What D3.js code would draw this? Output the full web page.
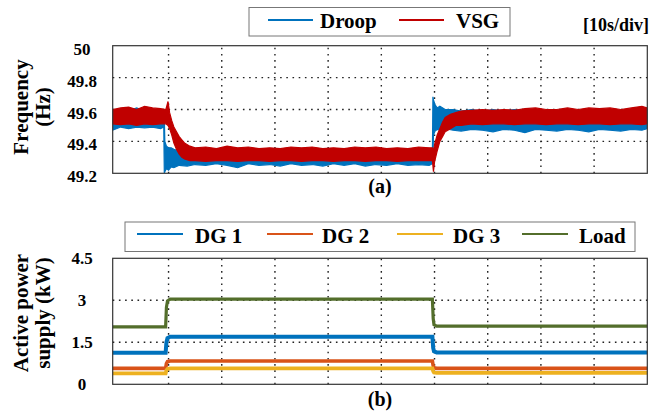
<!DOCTYPE html>
<html>
<head>
<meta charset="utf-8">
<script src="https://cdn.jsdelivr.net/npm/d3@7"></script>
<style>
  body { margin: 0; background: #fff; }
</style>
</head>
<body>
<svg id="chart" width="651" height="417"></svg>
<script>
// ---- panel (a): frequency envelopes (upper / lower edge of the noisy band)
var droopT = [-0.5, 1, 2.5, 4, 5.5, 7, 8.5, 9.1, 9.2, 9.3, 9.6, 10, 10.5, 11, 12, 13.5, 15, 17, 19, 21, 23, 25, 27, 29, 31, 33, 35, 37, 39, 41, 43, 45, 47, 49, 51, 53, 55, 57, 59, 59.6, 59.7, 59.8, 60.1, 60.5, 61, 62, 63.5, 65, 67, 69, 71, 73, 75, 77, 79, 81, 83, 85, 87, 89, 91, 93, 95, 97, 99, 100];
var droopHi = [49.59, 49.60, 49.59, 49.61, 49.59, 49.60, 49.59, 49.58, 49.56, 49.40, 49.37, 49.36, 49.36, 49.35, 49.34, 49.34, 49.33, 49.34, 49.33, 49.34, 49.35, 49.33, 49.34, 49.33, 49.34, 49.33, 49.34, 49.33, 49.34, 49.33, 49.34, 49.33, 49.34, 49.33, 49.34, 49.33, 49.34, 49.33, 49.33, 49.33, 49.68, 49.66, 49.63, 49.61, 49.62, 49.60, 49.60, 49.59, 49.60, 49.59, 49.60, 49.59, 49.60, 49.59, 49.60, 49.59, 49.59, 49.60, 49.59, 49.60, 49.59, 49.60, 49.59, 49.60, 49.59, 49.60];
var droopLo = [49.47, 49.49, 49.48, 49.49, 49.485, 49.49, 49.48, 49.49, 49.20, 49.21, 49.23, 49.22, 49.24, 49.235, 49.25, 49.245, 49.255, 49.25, 49.26, 49.25, 49.235, 49.26, 49.25, 49.255, 49.245, 49.26, 49.25, 49.255, 49.245, 49.26, 49.25, 49.26, 49.245, 49.255, 49.25, 49.26, 49.25, 49.255, 49.25, 49.26, 49.30, 49.44, 49.465, 49.475, 49.47, 49.48, 49.47, 49.465, 49.475, 49.47, 49.46, 49.475, 49.47, 49.455, 49.475, 49.47, 49.465, 49.475, 49.47, 49.46, 49.475, 49.47, 49.465, 49.475, 49.47, 49.48];

var vsgT = [-0.5, 1, 2.5, 4, 5.5, 7, 8.5, 9.5, 9.9, 10.2, 10.6, 11, 11.5, 12, 12.5, 13, 14, 15, 17, 19, 21, 23, 25, 27, 29, 31, 33, 35, 37, 39, 41, 43, 45, 47, 49, 51, 53, 55, 57, 59, 59.6, 59.8, 60, 60.5, 61, 61.5, 62, 63, 64, 65, 67, 69, 71, 73, 75, 77, 79, 81, 83, 85, 87, 89, 91, 93, 95, 97, 99, 100];
var vsgHi = [49.60, 49.61, 49.615, 49.60, 49.62, 49.61, 49.605, 49.60, 49.65, 49.58, 49.53, 49.49, 49.46, 49.43, 49.41, 49.39, 49.37, 49.36, 49.365, 49.355, 49.37, 49.36, 49.365, 49.355, 49.36, 49.355, 49.365, 49.36, 49.365, 49.355, 49.36, 49.355, 49.365, 49.36, 49.365, 49.355, 49.36, 49.355, 49.365, 49.36, 49.36, 49.34, 49.38, 49.44, 49.48, 49.52, 49.55, 49.57, 49.58, 49.59, 49.595, 49.60, 49.595, 49.60, 49.595, 49.605, 49.61, 49.60, 49.6, 49.61, 49.60, 49.61, 49.605, 49.61, 49.60, 49.61, 49.62, 49.61];
var vsgLo = [49.51, 49.505, 49.51, 49.50, 49.51, 49.505, 49.51, 49.51, 49.50, 49.48, 49.44, 49.39, 49.35, 49.32, 49.30, 49.29, 49.28, 49.28, 49.275, 49.28, 49.28, 49.275, 49.28, 49.28, 49.275, 49.28, 49.28, 49.275, 49.28, 49.28, 49.275, 49.28, 49.28, 49.275, 49.28, 49.28, 49.275, 49.28, 49.28, 49.28, 49.28, 49.21, 49.27, 49.34, 49.40, 49.43, 49.46, 49.48, 49.50, 49.50, 49.51, 49.505, 49.51, 49.51, 49.505, 49.51, 49.51, 49.505, 49.51, 49.51, 49.505, 49.51, 49.51, 49.505, 49.51, 49.51, 49.505, 49.51];

var freqTicks = [49.2, 49.4, 49.6, 49.8, 50];
var freqTickLabels = ["49.2", "49.4", "49.6", "49.8", "50"];

// ---- panel (b): active power (kW)
var stepT = [-0.5, 9.45, 9.6, 9.8, 10.3, 59.6, 59.75, 59.9, 60.4, 100];
var dg1 = [1.13, 1.13, 1.50, 1.65, 1.70, 1.70, 1.30, 1.18, 1.14, 1.14];
var dg2 = [0.57, 0.57, 0.74, 0.81, 0.83, 0.83, 0.66, 0.59, 0.57, 0.57];
var dg3 = [0.39, 0.39, 0.50, 0.55, 0.57, 0.57, 0.47, 0.42, 0.41, 0.41];
var load = [2.05, 2.05, 2.75, 2.98, 3.04, 3.04, 2.35, 2.13, 2.08, 2.08];

var powerTicks = [0, 1.5, 3, 4.5];
var powerTickLabels = ["0", "1.5", "3", "4.5"];
var timeTicks = [10, 20, 30, 40, 50, 60, 70, 80, 90];

var svg = d3.select("#chart");

var x = d3.scaleLinear().domain([-0.5, 100]).range([112.7, 647.3]);
var yF = d3.scaleLinear().domain([49.2, 50]).range([173.3, 45.7]);
var yP = d3.scaleLinear().domain([0, 4.5]).range([384.3, 258.3]);

function grid(yScale, hTicks) {
  var g = svg.append("g");
  g.selectAll("line.v").data(timeTicks).enter().append("line")
    .attr("x1", d => x(d)).attr("x2", d => x(d))
    .attr("y1", yScale.range()[0]).attr("y2", yScale.range()[1])
    .attr("stroke", "#222").attr("stroke-width", 1.4).attr("stroke-dasharray", "1.6,4.6");
  g.selectAll("line.h").data(hTicks).enter().append("line")
    .attr("x1", x.range()[0]).attr("x2", x.range()[1])
    .attr("y1", d => yScale(d)).attr("y2", d => yScale(d))
    .attr("stroke", "#222").attr("stroke-width", 1.4).attr("stroke-dasharray", "1.6,4.6");
}

function frame(yScale) {
  svg.append("rect")
    .attr("x", x.range()[0]).attr("y", yScale.range()[1])
    .attr("width", x.range()[1] - x.range()[0])
    .attr("height", yScale.range()[0] - yScale.range()[1])
    .attr("fill", "none").attr("stroke", "#333").attr("stroke-width", 1.2);
}

function tickLabels(yScale, vals, labels, dy) {
  svg.append("g").selectAll("text").data(vals).enter().append("text")
    .attr("x", 82).attr("y", d => yScale(d) + dy)
    .attr("text-anchor", "middle").attr("font-size", 17)
    .text((d, i) => labels[i]);
}

function yLabel(lines, cy) {
  svg.append("text")
    .attr("transform", "translate(28," + cy + ") rotate(-90)")
    .attr("text-anchor", "middle").attr("font-size", 21).text(lines[0]);
  svg.append("text")
    .attr("transform", "translate(50," + cy + ") rotate(-90)")
    .attr("text-anchor", "middle").attr("font-size", 21).text(lines[1]);
}

// ---- panel (a)
grid(yF, [49.4, 49.6, 49.8]);

svg.append("clipPath").attr("id", "clipA").append("rect")
  .attr("x", x.range()[0]).attr("y", yF.range()[1])
  .attr("width", x.range()[1] - x.range()[0]).attr("height", yF.range()[0] - yF.range()[1]);

function band(T, hi, lo, color) {
  var pts = T.map((t, i) => ({ t: t, hi: hi[i], lo: lo[i] }));
  svg.append("path").datum(pts)
    .attr("clip-path", "url(#clipA)")
    .attr("fill", color).attr("stroke", color).attr("stroke-width", 1.2)
    .attr("d", d3.area().x(d => x(d.t)).y0(d => yF(d.lo)).y1(d => yF(d.hi)));
}
band(droopT, droopHi, droopLo, "#0072BD");
band(vsgT, vsgHi, vsgLo, "#C00000");

frame(yF);
tickLabels(yF, freqTicks, freqTickLabels, 9);
yLabel(["Frequency", "(Hz)"], 107);

// legend (a)
var legA = svg.append("g");
legA.append("rect").attr("x", 249).attr("y", 7.5).attr("width", 261).attr("height", 28.5)
  .attr("fill", "#fff").attr("stroke", "#777").attr("stroke-width", 1);
[["Droop", "#0072BD", 268, 320], ["VSG", "#C00000", 399, 456]].forEach(function (e) {
  legA.append("line").attr("x1", e[2]).attr("x2", e[2] + 45).attr("y1", 20).attr("y2", 20)
    .attr("stroke", e[1]).attr("stroke-width", 2);
  legA.append("text").attr("x", e[3]).attr("y", 28).attr("font-size", 21).text(e[0]);
});
svg.append("text").attr("x", 649).attr("y", 31).attr("text-anchor", "end")
  .attr("font-size", 18).text("[10s/div]");
svg.append("text").attr("x", 380).attr("y", 193).attr("text-anchor", "middle")
  .attr("font-size", 20).text("(a)");

// ---- panel (b)
grid(yP, [1.5, 3]);

var powerSeries = [
  { name: "DG 1", vals: dg1, color: "#0072BD", w: 4 },
  { name: "DG 2", vals: dg2, color: "#D95319", w: 3.6 },
  { name: "DG 3", vals: dg3, color: "#EDB120", w: 3.8 },
  { name: "Load", vals: load, color: "#536E2B", w: 3.2 }
];
var line = d3.line().x(d => x(d[0])).y(d => yP(d[1]));
powerSeries.forEach(function (s) {
  svg.append("path").datum(stepT.map((t, i) => [t, s.vals[i]]))
    .attr("fill", "none").attr("stroke", s.color).attr("stroke-width", s.w)
    .attr("d", line);
});

frame(yP);
tickLabels(yP, powerTicks, powerTickLabels, 6);
yLabel(["Active power", "supply (kW)"], 313);

// legend (b)
var legB = svg.append("g");
legB.append("rect").attr("x", 125).attr("y", 222).attr("width", 510).attr("height", 29.5)
  .attr("fill", "#fff").attr("stroke", "#777").attr("stroke-width", 1);
var legPos = [[137, 195], [267, 322], [397, 453], [522, 579]];
powerSeries.forEach(function (s, i) {
  legB.append("line").attr("x1", legPos[i][0]).attr("x2", legPos[i][0] + 46).attr("y1", 234).attr("y2", 234)
    .attr("stroke", s.color).attr("stroke-width", 2);
  legB.append("text").attr("x", legPos[i][1]).attr("y", 243).attr("font-size", 21).text(s.name);
});
svg.append("text").attr("x", 380).attr("y", 406).attr("text-anchor", "middle")
  .attr("font-size", 20).text("(b)");

// times-like bold face on every label
svg.selectAll("text")
  .style("font-family", "'Liberation Serif', 'Times New Roman', serif")
  .style("font-weight", "bold")
  .style("fill", "#000");
</script>
</body>
</html>
